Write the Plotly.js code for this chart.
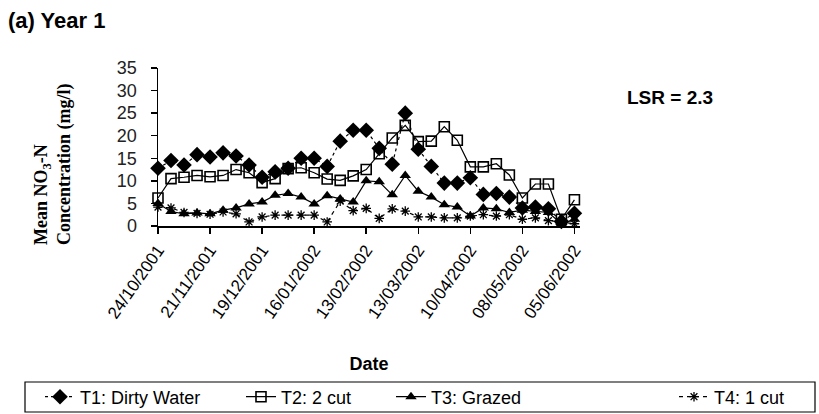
<!DOCTYPE html>
<html>
<head>
<meta charset="utf-8">
<script src="https://cdn.plot.ly/plotly-3.0.1.min.js"></script>
<style>
  html, body { margin: 0; padding: 0; background: #fff; }
  #chart { width: 819px; height: 414px; }
</style>
</head>
<body>
<div id="chart"></div>
<script>
// Sampling dates (weekly)
const dates = [
  '2001-10-24','2001-10-31','2001-11-07','2001-11-14','2001-11-21','2001-11-28',
  '2001-12-05','2001-12-12','2001-12-19','2001-12-26','2002-01-02','2002-01-09',
  '2002-01-16','2002-01-23','2002-01-30','2002-02-06','2002-02-13','2002-02-20',
  '2002-02-27','2002-03-06','2002-03-13','2002-03-20','2002-03-27','2002-04-03',
  '2002-04-10','2002-04-17','2002-04-24','2002-05-01','2002-05-08','2002-05-15',
  '2002-05-22','2002-05-29','2002-06-05'
];

// Mean NO3-N concentration (mg/l)
const t1DirtyWater = [12.8, 14.5, 13.5, 15.8, 15.3, 16.2, 15.5, 13.5, 10.8, 12.0, 12.8, 15.0, 15.0, 13.2, 18.8, 21.2, 21.2,
  17.2, 13.7, 25.0, 17.0, 13.2, 9.5, 9.5, 10.7, 7.0, 7.2, 6.4, 4.0, 4.2, 3.8, 1.0, 2.8];
const t2TwoCut = [6.2, 10.5, 10.8, 11.2, 10.9, 11.2, 12.5, 11.8, 9.6, 10.5, 12.7, 12.9, 11.8, 10.4, 10.1, 11.1, 12.5,
  16.0, 19.5, 22.3, 18.7, 18.8, 22.0, 19.0, 13.1, 13.1, 13.8, 11.3, 6.2, 9.3, 9.3, 1.5, 5.8];
const t3Grazed = [5.0, 3.2, 2.7, 2.9, 2.7, 3.5, 4.0, 4.9, 5.3, 6.8, 7.2, 6.4, 4.9, 6.7, 6.0, 5.3, 10.0,
  9.8, 6.9, 11.2, 7.7, 6.4, 4.7, 4.2, 2.2, 4.0, 3.8, 3.0, 3.5, 3.2, 3.0, 0.5, 1.5];
const t4OneCut = [4.2, 4.0, 3.0, 2.8, 2.6, 3.1, 2.7, 0.9, 2.0, 2.4, 2.4, 2.4, 2.4, 0.9, 5.5, 3.4, 3.9,
  1.7, 3.8, 3.3, 2.0, 2.0, 1.8, 1.8, 2.2, 2.5, 2.2, 2.5, 1.5, 1.8, 1.2, 0.8, 0.5];

const seriesNames = ['T1: Dirty Water', 'T2: 2 cut', 'T3: Grazed', 'T4: 1 cut'];
const yTicks = [0, 5, 10, 15, 20, 25, 30, 35];

const traces = [
  {
    x: dates, y: t1DirtyWater, name: seriesNames[0], type: 'scatter', mode: 'lines+markers',
    line: { color: '#000', width: 1.2, dash: '3px,3px' },
    marker: { symbol: 'diamond', size: 12, color: '#000' },
    cliponaxis: false, legend: 'legend'
  },
  {
    x: dates, y: t2TwoCut, name: seriesNames[1], type: 'scatter', mode: 'lines+markers',
    line: { color: '#000', width: 1.2 },
    marker: { symbol: 'square-open', size: 10, color: '#000', line: { width: 1.6, color: '#000' } },
    cliponaxis: false, legend: 'legend2'
  },
  {
    x: dates, y: t3Grazed, name: seriesNames[2], type: 'scatter', mode: 'lines+markers',
    line: { color: '#000', width: 1.2 },
    marker: { symbol: 'triangle-up', size: 10, color: '#000' },
    cliponaxis: false, legend: 'legend3'
  },
  {
    x: dates, y: t4OneCut, name: seriesNames[3], type: 'scatter', mode: 'lines+markers',
    line: { color: '#000', width: 1.2, dash: '4px,4px' },
    marker: { symbol: 'asterisk-open', size: 8, color: '#000', line: { width: 1.3, color: '#000' } },
    cliponaxis: false, legend: 'legend4'
  }
];

// plot area: l=158, width 422, t=68, height 158
function toPaperX(px) { return (px - 158) / 422; }
function toPaperY(py) { return (414 - 188 - py) / 158; }

function legendAt(textStartPx) {
  return {
    orientation: 'h', xref: 'container', yref: 'container',
    x: (textStartPx - 46) / 819, y: 1 - 397 / 414, xanchor: 'left', yanchor: 'middle',
    borderwidth: 0, bgcolor: 'rgba(0,0,0,0)',
    font: { size: 18, family: 'Liberation Sans, Arial, sans-serif', color: '#000' },
    itemsizing: 'trace'
  };
}

const layout = {
  width: 819, height: 414, autosize: false,
  paper_bgcolor: '#fff', plot_bgcolor: '#fff',
  margin: { l: 158, r: 239, t: 68, b: 188 },
  font: { family: 'Liberation Sans, Arial, sans-serif', color: '#000' },
  showlegend: true,
  legend: legendAt(86),
  legend2: legendAt(287),
  legend3: legendAt(437),
  legend4: legendAt(720),
  shapes: [
    {
      type: 'rect', xref: 'paper', yref: 'paper',
      x0: toPaperX(25), x1: toPaperX(815), y0: toPaperY(412), y1: toPaperY(382),
      line: { color: '#000', width: 1.2 }, fillcolor: 'rgba(0,0,0,0)', layer: 'below'
    }
  ],
  xaxis: {
    type: 'date',
    range: ['2001-10-24', '2002-06-08'],
    tickmode: 'linear', tick0: '2001-10-24', dtick: 28 * 86400000,
    tickformat: '%d/%m/%Y', tickangle: -55,
    tickfont: { size: 17, family: 'Liberation Sans, Arial, sans-serif' },
    ticks: 'outside', ticklen: 6, tickcolor: '#000', tickwidth: 1.5,
    showline: true, linecolor: '#000', linewidth: 1.5,
    showgrid: false, zeroline: false,
    title: { text: '<b>Date</b>', font: { size: 18, family: 'Liberation Sans, Arial, sans-serif' }, standoff: 36 }
  },
  yaxis: {
    range: [0, 35], tickmode: 'array', tickvals: yTicks, ticktext: yTicks.map(String),
    tickfont: { size: 18, family: 'Liberation Sans, Arial, sans-serif', color: '#222' },
    ticks: 'outside', ticklen: 6, tickcolor: '#000', tickwidth: 1.5,
    ticklabelstandoff: 10,
    showline: true, linecolor: '#000', linewidth: 1.5,
    showgrid: false, zeroline: false
  },
  annotations: [
    {
      text: '<b>(a) Year 1</b>', xref: 'paper', yref: 'paper', x: toPaperX(6), y: toPaperY(6),
      xanchor: 'left', yanchor: 'top', showarrow: false,
      font: { size: 22, family: 'Liberation Sans, Arial, sans-serif' }
    },
    {
      text: '<b>LSR = 2.3</b>', xref: 'paper', yref: 'paper', x: toPaperX(625), y: toPaperY(97),
      xanchor: 'left', yanchor: 'middle', showarrow: false,
      font: { size: 19, family: 'Liberation Sans, Arial, sans-serif' }
    },
    {
      text: '<b>Mean NO<sub>3</sub>-N</b>', xref: 'paper', yref: 'paper', x: toPaperX(42), y: toPaperY(195),
      xanchor: 'center', yanchor: 'middle', textangle: -90, showarrow: false,
      font: { size: 18, family: 'Liberation Serif, Times New Roman, serif' }
    },
    {
      text: '<b>Concentration (mg/l)</b>', xref: 'paper', yref: 'paper', x: toPaperX(64), y: toPaperY(165),
      xanchor: 'center', yanchor: 'middle', textangle: -90, showarrow: false,
      font: { size: 18, family: 'Liberation Serif, Times New Roman, serif' }
    }
  ]
};

Plotly.newPlot('chart', traces, layout, { displayModeBar: false, staticPlot: true });
</script>
</body>
</html>
